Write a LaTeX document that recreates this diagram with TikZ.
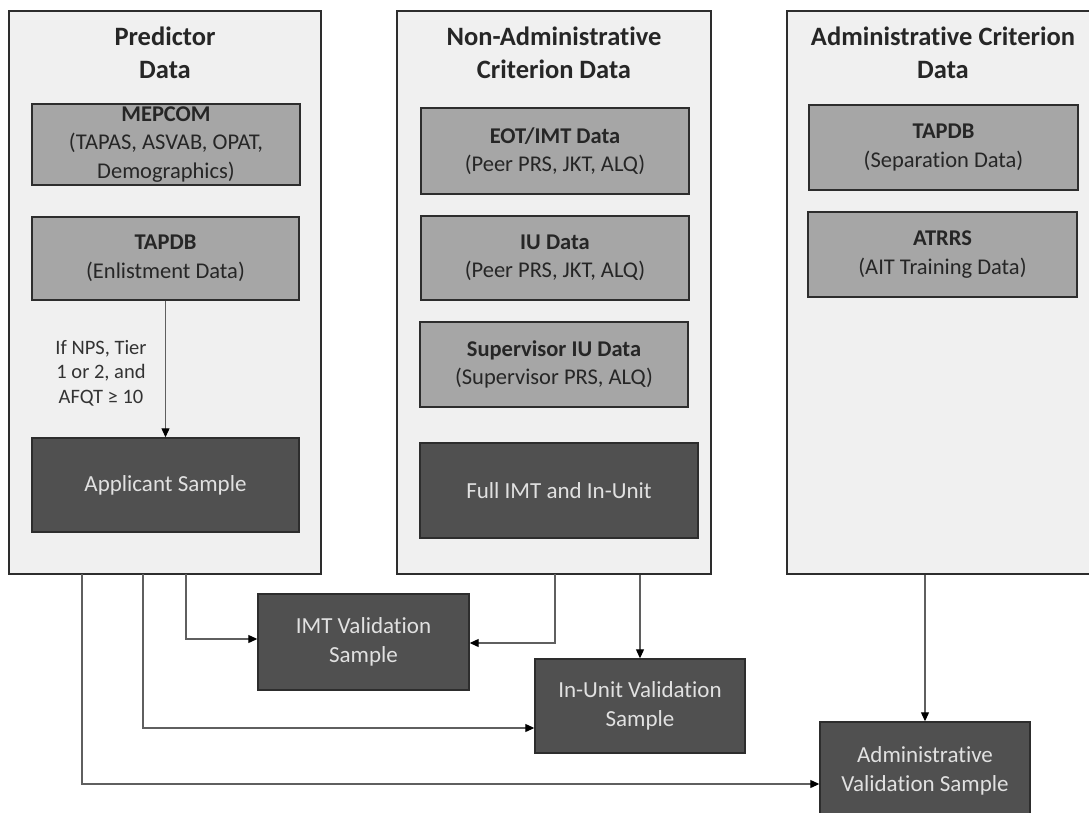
\documentclass[tikz,border=0pt]{standalone}
\usepackage{fontspec}
\setmainfont{Carlito}[Ligatures={NoCommon,NoRequired,NoContextual}]
\usetikzlibrary{arrows.meta,calc}
\newcommand\tisep{t\kern0pt i}
\definecolor{panelfill}{RGB}{240,240,240}
\definecolor{lightfill}{RGB}{166,166,166}
\definecolor{darkfill}{RGB}{80,80,80}
\definecolor{edgecol}{RGB}{45,45,45}
\definecolor{conncol}{RGB}{95,95,95}
\definecolor{darktext}{RGB}{225,225,225}
\tikzset{
  panel/.style={draw=edgecol, line width=1.5pt, fill=panelfill, rectangle, inner sep=0pt},
  lightbox/.style={draw=edgecol, line width=1.4pt, fill=lightfill, rectangle, inner sep=0pt, align=center, text=black!85,
    font=\fontsize{22.5}{28.5}\selectfont},
  darkbox/.style={draw=edgecol, line width=1.4pt, fill=darkfill, rectangle, inner sep=0pt, align=center, text=darktext,
    font=\fontsize{23}{29}\selectfont},
  titletext/.style={align=center, inner sep=0pt, font=\fontsize{26.5}{33}\selectfont\bfseries, text=black!85},
  labeltext/.style={align=center, inner sep=0pt, font=\fontsize{20.5}{24.5}\selectfont, text=black!80},
  conn/.style={draw=conncol, line width=1.1pt, -{Triangle[length=9pt,width=8pt]}, arrows={[color=black]}}
}
\begin{document}
\begin{tikzpicture}[x=1pt,y=-1pt]
\clip (0,0) rectangle (1089,813);
\fill[white] (0,0) rectangle (1089,813);

% panels
\node[panel, minimum width=312, minimum height=563] (lp) at (165,292.5) {};
\node[panel, minimum width=314, minimum height=563] (mp) at (554,292.5) {};
\node[panel, minimum width=312, minimum height=563] (rp) at (943,292.5) {};

% titles
\node[titletext] (lt) at (165,53) {Predictor\\Data};
\node[titletext] (mt) at (554,53) {Non-Administra\tisep ve\\Criterion Data};
\node[titletext] (rt) at (943,53) {Administra\tisep ve Criterion\\Data};

% left panel
\node[lightbox, minimum width=268, minimum height=81] (mep) at (166,144.5)
  {\textbf{MEPCOM}\\(TAPAS, ASVAB, OPAT,\\Demographics)};
\node[lightbox, minimum width=267, minimum height=83] (tap1) at (165.5,258.5)
  {\textbf{TAPDB}\\(Enlistment Data)};
\node[darkbox, minimum width=267, minimum height=94] (app) at (165.5,485)
  {Applicant Sample};
\node[labeltext] (cond) at (101,373) {If NPS, Tier\\1 or 2, and\\AFQT ≥ 10};

% middle panel
\node[lightbox, minimum width=268, minimum height=86] (eot) at (555,151)
  {\textbf{EOT/IMT Data}\\(Peer PRS, JKT, ALQ)};
\node[lightbox, minimum width=268, minimum height=84] (iu) at (555,258)
  {\textbf{IU Data}\\(Peer PRS, JKT, ALQ)};
\node[lightbox, minimum width=268, minimum height=85] (sup) at (554,364.5)
  {\textbf{Supervisor IU Data}\\(Supervisor PRS, ALQ)};
\node[darkbox, minimum width=278, minimum height=95] (full) at (559,490.5)
  {Full IMT and In-Unit};

% right panel
\node[lightbox, minimum width=269, minimum height=85] (tap2) at (943.5,147.5)
  {\textbf{TAPDB}\\(Separa\tisep on Data)};
\node[lightbox, minimum width=269, minimum height=85] (atr) at (942.5,254.5)
  {\textbf{ATRRS}\\(AIT Training Data)};

% bottom samples
\node[darkbox, minimum width=211, minimum height=96] (imt) at (363.5,642)
  {IMT Valida\tisep on\\Sample};
\node[darkbox, minimum width=210, minimum height=94] (inu) at (640,706)
  {In-Unit Valida\tisep on\\Sample};
\node[darkbox, minimum width=210, minimum height=98] (adm) at (925,771)
  {Administra\tisep ve\\Valida\tisep on Sample};

% connector start points
\coordinate (l1) at (82,574);
\coordinate (l2) at (143,574);
\coordinate (l3) at (186,574);
\coordinate (m1) at (555,574);
\coordinate (m2) at (inu.north |- mp.south);
\coordinate (r1) at (adm.north |- rp.south);

% connectors
\draw[conn] (tap1) -- (app);
\draw[conn] (l3) |- ([yshift=3pt]imt.west);
\draw[conn] (m1) |- ([yshift=-1pt]imt.east);
\draw[conn] (m2) -- (inu.north);
\draw[conn] (l2) |- ([yshift=-22pt]inu.west);
\draw[conn] (r1) -- (adm.north);
\draw[conn] (l1) |- ([yshift=-13pt]adm.west);
\end{tikzpicture}
\end{document}
